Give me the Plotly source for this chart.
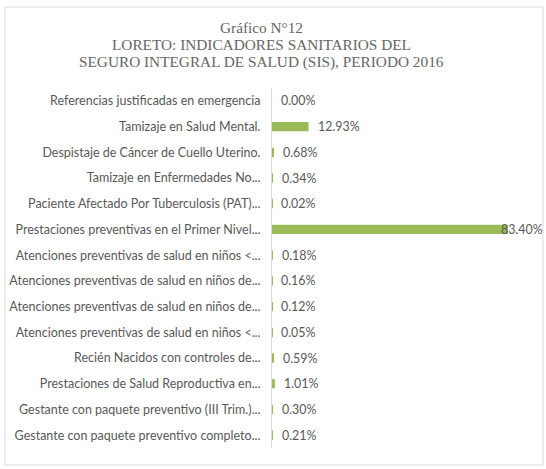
import plotly.graph_objects as go

title_lines = [
    "Gráfico N°12",
    "LORETO: INDICADORES SANITARIOS DEL",
    "SEGURO INTEGRAL DE SALUD (SIS), PERIODO 2016",
]

categories = [
    "Referencias justificadas en emergencia",
    "Tamizaje en Salud Mental.",
    "Despistaje de Cáncer de Cuello Uterino.",
    "Tamizaje en Enfermedades No...",
    "Paciente Afectado Por Tuberculosis (PAT)...",
    "Prestaciones preventivas en el Primer Nivel...",
    "Atenciones preventivas de salud en niños <...",
    "Atenciones preventivas de salud en niños de...",
    "Atenciones preventivas de salud en niños de...",
    "Atenciones preventivas de salud en niños <...",
    "Recién Nacidos con controles de...",
    "Prestaciones de Salud Reproductiva en...",
    "Gestante con paquete preventivo (III Trim.)...",
    "Gestante con paquete preventivo completo...",
]

values = [0.00, 12.93, 0.68, 0.34, 0.02, 83.40, 0.18, 0.16, 0.12, 0.05, 0.59, 1.01, 0.30, 0.21]

# unique y keys (some category labels repeat)
ykeys = list(range(len(categories)))

GREY = "#595959"
BAR = "#9BBB59"

W, H = 546, 469
L, R, T, B = 272, 530, 88, 448
pw, ph = R - L, B - T


def px_x(p):
    return (p - L) / pw


def px_y(p):
    return (B - p) / ph


fig = go.Figure()
fig.add_trace(go.Bar(
    x=values,
    y=ykeys,
    orientation="h",
    marker=dict(color=BAR, line=dict(width=0)),
    hoverinfo="skip",
))

xmax = 91.2
annotations = []
for k, v in zip(ykeys, values):
    annotations.append(dict(
        x=v, y=k, xref="x", yref="y",
        text=f"{v:.2f}%",
        showarrow=False,
        xanchor="left",
        xshift=7 if v < 0.85 * xmax else -9,
        font=dict(family="Lato, Carlito, sans-serif", size=12.4, color=GREY),
    ))

title_y = [28, 45, 62]
for line, ty in zip(title_lines, title_y):
    annotations.append(dict(
        x=px_x(261), y=px_y(ty), xref="paper", yref="paper",
        text=line, showarrow=False,
        xanchor="center", yanchor="middle",
        font=dict(family="Liberation Serif, Times New Roman, serif", size=15.3, color="#666666"),
    ))

fig.update_layout(
    width=W, height=H,
    margin=dict(l=L, r=W - R, t=T, b=H - B, pad=0, autoexpand=False),
    paper_bgcolor="white",
    plot_bgcolor="white",
    showlegend=False,
    bargap=0.64,
    annotations=annotations,
    shapes=[dict(
        type="rect", xref="paper", yref="paper",
        x0=px_x(5), x1=px_x(543), y0=px_y(465), y1=px_y(7),
        line=dict(color="#D9D9D9", width=1),
        fillcolor="rgba(0,0,0,0)", layer="below",
    )],
    xaxis=dict(
        range=[0, xmax], visible=False, fixedrange=True, automargin=False,
    ),
    yaxis=dict(
        tickmode="array", tickvals=ykeys, ticktext=categories,
        autorange="reversed", automargin=False,
        showline=True, linecolor="#D9D9D9", linewidth=1,
        showgrid=False, zeroline=False,
        ticks="", ticklabelstandoff=8,
        tickfont=dict(family="Lato, Carlito, sans-serif", size=12.5, color=GREY),
    ),
)

fig.write_html("out.html")
